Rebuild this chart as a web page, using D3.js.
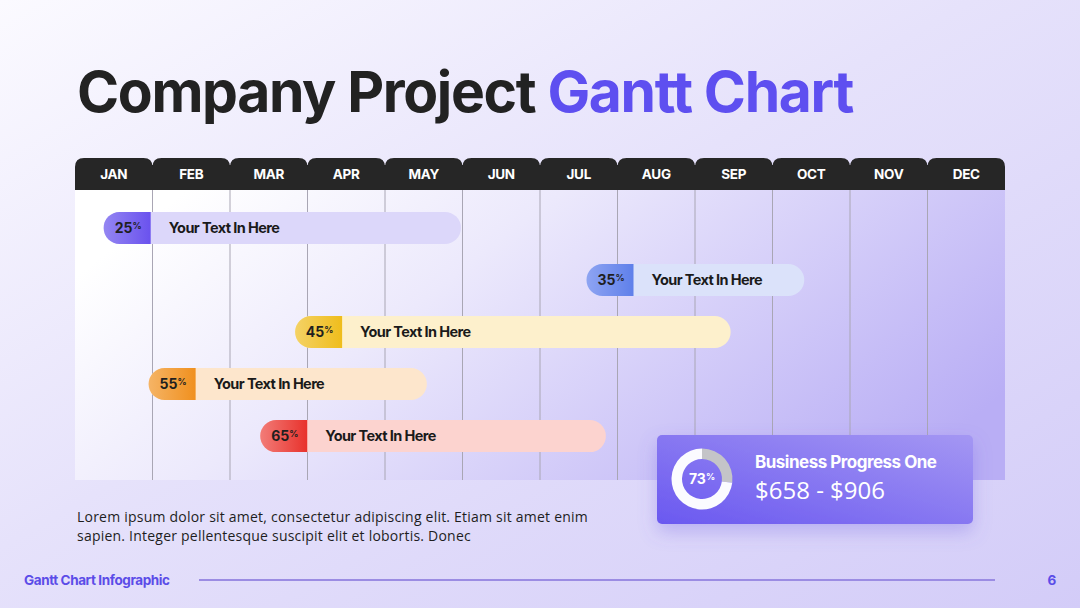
<!DOCTYPE html>
<html>
<head>
<meta charset="utf-8">
<script src="https://cdn.jsdelivr.net/npm/d3@7"></script>
<style>
  html, body { margin: 0; padding: 0; }
  body { width: 1080px; height: 608px; overflow: hidden; }
  svg { display: block; }
</style>
</head>
<body>
<div id="chart"></div>
<script>
const W = 1080, H = 608;

// data
const months = ["JAN", "FEB", "MAR", "APR", "MAY", "JUN", "JUL", "AUG", "SEP", "OCT", "NOV", "DEC"];
const taskLabels = ["Your Text In Here", "Your Text In Here", "Your Text In Here", "Your Text In Here", "Your Text In Here"];
const taskPercent = [25, 35, 45, 55, 65];
const taskStart = [0.37, 6.6, 2.84, 0.95, 2.39];   // in months from Jan 1
const taskEnd = [4.98, 9.41, 8.46, 4.54, 6.85];
const progressValue = 73;
const progressTitle = "Business Progress One";
const progressRange = "$658 - $906";

// palette per task: [cap light, cap dark, bar fill]
const palette = [
  ["#9486f2", "#6a52ee", "#dcd7fa"],
  ["#8ea4f2", "#5f80ea", "#dbe2fa"],
  ["#f4d266", "#efbd1c", "#fdf0cc"],
  ["#f5b466", "#f0901e", "#fde6cc"],
  ["#f27c78", "#e8322c", "#fcd3cf"]
];

const svg = d3.select("#chart").append("svg")
    .attr("width", W)
    .attr("height", H);

const defs = svg.append("defs");

// page background
const bg = defs.append("linearGradient").attr("id", "bg")
    .attr("x1", 0).attr("y1", 0).attr("x2", 1).attr("y2", 1);
bg.append("stop").attr("offset", "0%").attr("stop-color", "#fbfaff");
bg.append("stop").attr("offset", "45%").attr("stop-color", "#e6e2fb");
bg.append("stop").attr("offset", "100%").attr("stop-color", "#d3ccf8");
svg.append("rect").attr("width", W).attr("height", H).attr("fill", "url(#bg)");

// panel gradient
const pg = defs.append("linearGradient").attr("id", "panel")
    .attr("x1", 0).attr("y1", 0.3).attr("x2", 1).attr("y2", 0.7);
pg.append("stop").attr("offset", "0%").attr("stop-color", "#ffffff");
pg.append("stop").attr("offset", "35%").attr("stop-color", "#ece9fc");
pg.append("stop").attr("offset", "100%").attr("stop-color", "#b9aef5");

// title
const title = svg.append("text")
    .attr("x", 77).attr("y", 112)
    .attr("font-family", "Inter, 'DejaVu Sans', sans-serif")
    .attr("font-weight", 700)
    .attr("font-size", 57);
title.append("tspan").attr("fill", "#222222").text("Company Project ");
title.append("tspan").attr("fill", "#5e4ff0").text("Gantt Chart");
const tw = title.node().getComputedTextLength();
title.attr("letter-spacing", (776 - tw) / 27);

// scales
const margin = {left: 75, right: 75};
const x = d3.scaleLinear().domain([0, 12]).range([margin.left, W - margin.right]);
const headTop = 158, headBottom = 190, gridBottom = 480;
const y = d3.scaleBand().domain(d3.range(taskLabels.length)).range([202, 462]).paddingInner(0.385).paddingOuter(0.19);

// grid panel
svg.append("rect")
    .attr("x", x(0)).attr("y", headBottom)
    .attr("width", x(12) - x(0)).attr("height", gridBottom - headBottom)
    .attr("fill", "url(#panel)");

svg.append("g").selectAll("line")
  .data(d3.range(1, 12))
  .join("line")
    .attr("x1", d => x(d)).attr("x2", d => x(d))
    .attr("y1", headBottom).attr("y2", gridBottom)
    .attr("stroke", "#a9a6b4")
    .attr("stroke-width", 1);

// month tabs
const r = 9;
svg.append("rect")
    .attr("x", x(0) + 2).attr("y", headTop + 7)
    .attr("width", x(12) - x(0) - 4).attr("height", headBottom - headTop - 7)
    .attr("fill", "#262626");
const tabs = svg.append("g").selectAll("g")
  .data(months)
  .join("g");
tabs.append("path")
    .attr("fill", "#262626")
    .attr("d", (d, i) => {
      const x0 = x(i), x1 = x(i + 1);
      return `M${x0},${headBottom} L${x0},${headTop + r} Q${x0},${headTop} ${x0 + r},${headTop}`
        + ` L${x1 - r},${headTop} Q${x1},${headTop} ${x1},${headTop + r} L${x1},${headBottom} Z`;
    });
tabs.append("text")
    .attr("x", (d, i) => (x(i) + x(i + 1)) / 2)
    .attr("y", 179)
    .attr("text-anchor", "middle")
    .attr("fill", "#ffffff")
    .attr("font-family", "Inter, sans-serif")
    .attr("font-weight", 700)
    .attr("font-size", 13.5)
    .attr("letter-spacing", -0.3)
    .text(d => d);

// cap gradients
palette.forEach((p, i) => {
  const g = defs.append("linearGradient").attr("id", "cap" + i)
      .attr("x1", 0).attr("y1", 0).attr("x2", 1).attr("y2", 0);
  g.append("stop").attr("offset", "0%").attr("stop-color", p[0]);
  g.append("stop").attr("offset", "100%").attr("stop-color", p[1]);
});

// bars
const capW = 47;
const bh = y.bandwidth();
const bars = svg.append("g").selectAll("g")
  .data(taskLabels.map((t, i) => ({label: t, pct: taskPercent[i], s: taskStart[i], e: taskEnd[i], i})))
  .join("g");

bars.append("rect")
    .attr("x", d => x(d.s)).attr("y", d => y(d.i))
    .attr("width", d => x(d.e) - x(d.s)).attr("height", bh)
    .attr("rx", bh / 2)
    .attr("fill", d => palette[d.i][2]);

bars.append("path")
    .attr("fill", d => `url(#cap${d.i})`)
    .attr("d", d => {
      const x0 = x(d.s), y0 = y(d.i), rr = bh / 2;
      return `M${x0 + capW},${y0} L${x0 + rr},${y0} A${rr},${rr} 0 0 0 ${x0 + rr},${y0 + bh} L${x0 + capW},${y0 + bh} Z`;
    });

const pctText = bars.append("text")
    .attr("x", d => x(d.s) + capW / 2 + 1)
    .attr("y", d => y(d.i) + bh / 2 + 5)
    .attr("text-anchor", "middle")
    .attr("fill", "#1f1f1f")
    .attr("font-family", "Inter, sans-serif")
    .attr("font-weight", 700)
    .attr("font-size", 14);
pctText.append("tspan").text(d => d.pct);
pctText.append("tspan").attr("font-size", 9).attr("dy", -4).text("%");

bars.append("text")
    .attr("x", d => x(d.s) + capW + 18)
    .attr("y", d => y(d.i) + bh / 2 + 5)
    .attr("fill", "#1a1a1a")
    .attr("font-family", "Inter, sans-serif")
    .attr("font-weight", 700)
    .attr("font-size", 14.5)
    .attr("letter-spacing", -0.6)
    .text(d => d.label);

// progress card
const shadow = defs.append("filter").attr("id", "shadow")
    .attr("x", "-20%").attr("y", "-20%").attr("width", "140%").attr("height", "160%");
shadow.append("feDropShadow")
    .attr("dx", 0).attr("dy", 8).attr("stdDeviation", 9)
    .attr("flood-color", "#6a5ae0").attr("flood-opacity", 0.3);

const cg = defs.append("linearGradient").attr("id", "card")
    .attr("x1", 0).attr("y1", 1).attr("x2", 1).attr("y2", 0);
cg.append("stop").attr("offset", "0%").attr("stop-color", "#6a58f0");
cg.append("stop").attr("offset", "100%").attr("stop-color", "#a497f3");

const card = svg.append("g").attr("transform", "translate(657,435)");
card.append("rect")
    .attr("width", 316).attr("height", 89)
    .attr("rx", 5)
    .attr("fill", "url(#card)")
    .attr("filter", "url(#shadow)");

const donut = card.append("g").attr("transform", "translate(45,44)");
const pie = d3.pie().sort(null).startAngle(0).endAngle(2 * Math.PI);
const arc = d3.arc().innerRadius(20).outerRadius(30.5);
donut.selectAll("path")
  .data(pie([100 - progressValue, progressValue]))
  .join("path")
    .attr("d", arc)
    .attr("fill", (d, i) => i === 0 ? "#c4c4c8" : "#fbfbff");
const dt = donut.append("text")
    .attr("x", 0).attr("y", 5)
    .attr("text-anchor", "middle")
    .attr("fill", "#ffffff")
    .attr("font-family", "Inter, sans-serif")
    .attr("font-weight", 700)
    .attr("font-size", 14);
dt.append("tspan").text(progressValue);
dt.append("tspan").attr("font-size", 9).attr("dy", -4).text("%");

card.append("text")
    .attr("x", 98).attr("y", 33)
    .attr("fill", "#ffffff")
    .attr("font-family", "Inter, sans-serif")
    .attr("font-weight", 700)
    .attr("font-size", 17)
    .attr("letter-spacing", -0.5)
    .text(progressTitle);
card.append("text")
    .attr("x", 98).attr("y", 64)
    .attr("fill", "#ffffff")
    .attr("font-family", "'Open Sans', sans-serif")
    .attr("font-weight", 400)
    .attr("font-size", 24)
    .text(progressRange);

// paragraph
const para = ["Lorem ipsum dolor sit amet, consectetur adipiscing elit. Etiam sit amet enim",
              "sapien. Integer pellentesque suscipit elit et lobortis. Donec"];
svg.append("g").selectAll("text")
  .data(para)
  .join("text")
    .attr("x", 77).attr("y", (d, i) => 522 + i * 19)
    .attr("fill", "#1e1e1e")
    .attr("font-family", "'Open Sans', sans-serif")
    .attr("font-size", 14)
    .text(d => d)
    .each(function(d, i) {
      if (i === 0) {
        const w = this.getComputedTextLength();
        d3.select(this.parentNode).selectAll("text").attr("letter-spacing", (511 - w) / d.length);
      }
    });

// footer
svg.append("text")
    .attr("x", 24).attr("y", 585)
    .attr("fill", "#5b4ce8")
    .attr("font-family", "Inter, sans-serif")
    .attr("font-weight", 700)
    .attr("font-size", 13.5)
    .attr("letter-spacing", -0.4)
    .text("Gantt Chart Infographic");
svg.append("line")
    .attr("x1", 199).attr("x2", 995)
    .attr("y1", 580).attr("y2", 580)
    .attr("stroke", "#9b8ce3")
    .attr("stroke-width", 2);
svg.append("text")
    .attr("x", 1052).attr("y", 585)
    .attr("text-anchor", "middle")
    .attr("fill", "#5b4ce8")
    .attr("font-family", "Inter, sans-serif")
    .attr("font-weight", 700)
    .attr("font-size", 13.5)
    .text("6");
</script>
</body>
</html>
